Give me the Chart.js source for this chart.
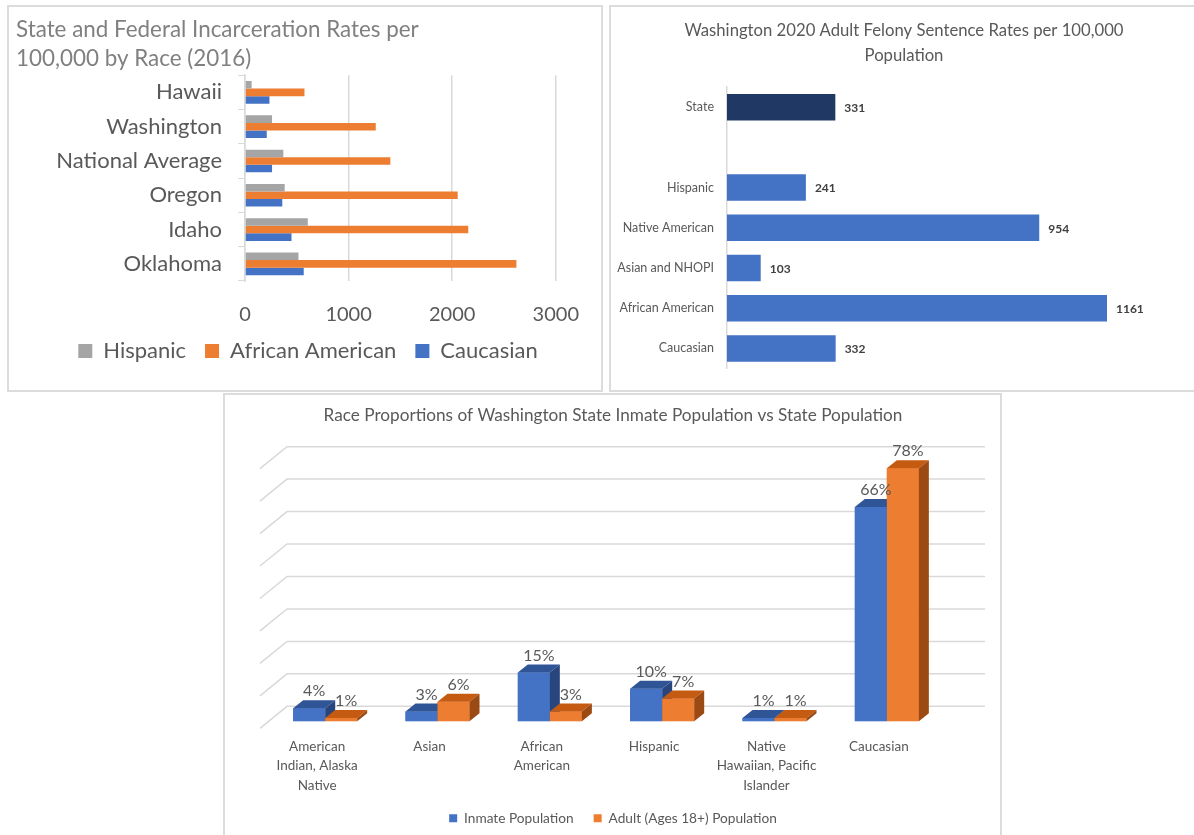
<!DOCTYPE html>
<html>
<head>
<meta charset="utf-8">
<title>Incarceration and sentence rates by race</title>
<script src="https://cdn.jsdelivr.net/npm/chart.js@4.4.0/dist/chart.umd.min.js"></script>
<style>
    body { margin: 0; background: #fff; width: 1194px; height: 835px; overflow: hidden; position: relative; }
    .box { position: absolute; border: 2px solid #dcdcdc; box-sizing: border-box; background: #fff; }
    canvas { position: absolute; }
</style>
</head>
<body>
<div class="box" style="left:7px;top:5px;width:596px;height:387px"></div>
<div class="box" style="left:609px;top:5px;width:600px;height:387px"></div>
<div class="box" style="left:223px;top:393px;width:779px;height:470px"></div>
<canvas id="rateChart" width="592" height="382" style="left:9px;top:7px"></canvas>
<canvas id="sentenceChart" width="595" height="382" style="left:611px;top:7px"></canvas>
<canvas id="shareChart" width="775" height="470" style="left:225px;top:395px"></canvas>

<script>
// Chart 1: State and Federal Incarceration Rates per 100,000 by Race (2016)
const stateLabels = ['Hawaii', 'Washington', 'National Average', 'Oregon', 'Idaho', 'Oklahoma'];
const hispanicRates = [64, 261, 370, 383, 606, 516];
const africanAmericanRates = [574, 1262, 1403, 2053, 2155, 2620];
const caucasianRates = [236, 210, 261, 360, 449, 567];
const rateTicks = [0, 1000, 2000, 3000];

// Chart 2: Washington 2020 Adult Felony Sentence Rates per 100,000 Population
const sentenceLabels = ['State', '', 'Hispanic', 'Native American', 'Asian and NHOPI', 'African American', 'Caucasian'];
const sentenceRates = [331, null, 241, 954, 103, 1161, 332];

// Chart 3: Race Proportions of Washington State Inmate Population vs State Population
const raceLabels = [['American', 'Indian, Alaska', 'Native'], 'Asian', ['African', 'American'], 'Hispanic', ['Native', 'Hawaiian, Pacific', 'Islander'], 'Caucasian'];
const inmateShare = [4, 3, 15, 10, 1, 66];
const adultShare = [1, 6, 3, 7, 1, 78];
const shareTicks = [0, 10, 20, 30, 40, 50, 60, 70, 80];

const FONT = "Lato, 'Open Sans', sans-serif";
const GREY_TEXT = '#595959';
const GRID = '#d9d9d9';

Chart.defaults.font.family = FONT;
Chart.defaults.color = GREY_TEXT;
Chart.defaults.animation = false;
Chart.defaults.plugins.tooltip.enabled = false;

// empty axis on the right, only reserves space so title/legend stay centred on the box
function spacerAxis(width) {
    return {
        type: 'linear',
        position: 'right',
        grid: { display: false, drawTicks: false },
        border: { display: false },
        ticks: { display: false },
        afterFit: (scale) => { scale.width = width; }
    };
}

// ---------- Chart 1 ----------
new Chart(document.getElementById('rateChart'), {
    type: 'bar',
    data: {
        labels: stateLabels,
        datasets: [
            { label: 'Hispanic', data: hispanicRates, backgroundColor: '#a5a5a5', borderWidth: 0 },
            { label: 'African American', data: africanAmericanRates, backgroundColor: '#ed7d31', borderWidth: 0 },
            { label: 'Caucasian', data: caucasianRates, backgroundColor: '#4472c4', borderWidth: 0 }
        ]
    },
    options: {
        indexAxis: 'y',
        responsive: false,
        categoryPercentage: 0.66,
        barPercentage: 1,
        layout: { padding: { left: 7, right: 1, top: 0, bottom: 17 } },
        scales: {
            x: {
                min: 0,
                max: 3000,
                afterBuildTicks: (scale) => { scale.ticks = rateTicks.map(v => ({ value: v })); },
                afterFit: (scale) => { scale.height = 40; },
                grid: { color: GRID, lineWidth: 1.5, drawTicks: false },
                border: { display: false },
                ticks: { padding: 22, font: { size: 20 }, color: GREY_TEXT, callback: (v) => String(v) }
            },
            y: {
                afterFit: (scale) => { scale.width = 229; },
                grid: { drawOnChartArea: false, tickLength: 7, color: GRID },
                border: { color: GRID, width: 1.5 },
                ticks: { padding: 16, font: { size: 22 }, color: GREY_TEXT }
            },
            spacer: spacerAxis(42)
        },
        plugins: {
            title: {
                display: true,
                align: 'start',
                text: ['State and Federal Incarceration Rates per', '100,000 by Race (2016)'],
                color: '#808080',
                font: { size: 22.4, weight: 'normal', lineHeight: 1.3 },
                padding: { top: 8, bottom: 2 }
            },
            legend: {
                position: 'bottom',
                labels: { boxWidth: 14, boxHeight: 14, padding: 19, font: { size: 22 }, color: GREY_TEXT }
            }
        }
    }
});

// ---------- Chart 2 ----------
const barValueLabels = {
    id: 'barValueLabels',
    afterDatasetsDraw(chart) {
        const ctx = chart.ctx;
        const meta = chart.getDatasetMeta(0);
        ctx.save();
        ctx.font = 'bold 12px ' + FONT;
        ctx.fillStyle = '#404040';
        ctx.textBaseline = 'middle';
        meta.data.forEach((bar, i) => {
            const v = sentenceRates[i];
            if (v == null) return;
            ctx.fillText(String(v), bar.x + 9, bar.y + 1);
        });
        ctx.restore();
    }
};

new Chart(document.getElementById('sentenceChart'), {
    type: 'bar',
    data: {
        labels: sentenceLabels,
        datasets: [{
            data: sentenceRates,
            backgroundColor: sentenceLabels.map((l, i) => i === 0 ? '#203864' : '#4472c4'),
            borderWidth: 0
        }]
    },
    options: {
        indexAxis: 'y',
        responsive: false,
        categoryPercentage: 0.66,
        barPercentage: 1,
        layout: { padding: { left: 0, right: 9, top: 0, bottom: 15 } },
        scales: {
            x: { display: false, min: 0, max: 1436 },
            y: {
                afterFit: (scale) => { scale.width = 116; },
                grid: { display: false, drawTicks: false },
                border: { color: GRID, width: 1.5 },
                ticks: { padding: 13, font: { size: 12.5 }, color: GREY_TEXT }
            }
        },
        plugins: {
            legend: { display: false },
            title: {
                display: true,
                text: ['Washington 2020 Adult Felony Sentence Rates per 100,000', 'Population'],
                color: GREY_TEXT,
                font: { size: 16.7, weight: 'normal', lineHeight: 1.5 },
                padding: { top: 11, bottom: 19 }
            }
        }
    },
    plugins: [barValueLabels]
});

// ---------- Chart 3 (3D look) ----------
const DEPTH_X = 10, DEPTH_Y = -8;   // bar depth
const WALL_X = 18, WALL_Y = -15;    // back wall behind bar fronts
const FLOOR_X = -27, FLOOR_Y = 22;  // diagonal from wall to front edge

const perspectiveGrid = {
    id: 'perspectiveGrid',
    beforeDatasetsDraw(chart) {
        const { ctx, chartArea, scales: { y } } = chart;
        ctx.save();
        ctx.strokeStyle = GRID;
        ctx.lineWidth = 1.5;
        shareTicks.forEach(v => {
            const py = y.getPixelForValue(v) + WALL_Y;
            const px = chartArea.left + WALL_X;
            ctx.beginPath();
            ctx.moveTo(px + FLOOR_X, py + FLOOR_Y);
            ctx.lineTo(px, py);
            ctx.lineTo(chartArea.right + 42, py);
            ctx.stroke();
        });
        ctx.restore();
    }
};

function fillPoly(ctx, pts, color) {
    ctx.beginPath();
    ctx.moveTo(pts[0][0], pts[0][1]);
    pts.slice(1).forEach(p => ctx.lineTo(p[0], p[1]));
    ctx.closePath();
    ctx.fillStyle = color;
    ctx.fill();
}

const bars3d = {
    id: 'bars3d',
    afterDatasetsDraw(chart) {
        const ctx = chart.ctx;
        ctx.save();
        chart.data.datasets.forEach((ds, di) => {
            chart.getDatasetMeta(di).data.forEach(bar => {
                const l = bar.x - bar.width / 2, r = bar.x + bar.width / 2;
                const t = bar.y, b = bar.base;
                fillPoly(ctx, [[l, t], [r, t], [r, b], [l, b]], ds.backgroundColor);
                fillPoly(ctx, [[l, t], [l + DEPTH_X, t + DEPTH_Y], [r + DEPTH_X, t + DEPTH_Y], [r, t]], ds.topColor);
                fillPoly(ctx, [[r, t], [r + DEPTH_X, t + DEPTH_Y], [r + DEPTH_X, b + DEPTH_Y], [r, b]], ds.sideColor);
            });
        });
        // value labels
        ctx.font = '16px ' + FONT;
        ctx.fillStyle = GREY_TEXT;
        ctx.textAlign = 'center';
        ctx.textBaseline = 'middle';
        chart.data.datasets.forEach((ds, di) => {
            chart.getDatasetMeta(di).data.forEach((bar, i) => {
                ctx.fillText(ds.data[i] + '%', bar.x + DEPTH_X / 2, bar.y + DEPTH_Y - 9);
            });
        });
        ctx.restore();
    }
};

new Chart(document.getElementById('shareChart'), {
    type: 'bar',
    data: {
        labels: raceLabels,
        datasets: [
            { label: 'Inmate Population', data: inmateShare, backgroundColor: '#4472c4', topColor: '#2f5597', sideColor: '#28467d', borderWidth: 0 },
            { label: 'Adult (Ages 18+) Population', data: adultShare, backgroundColor: '#ed7d31', topColor: '#c55a11', sideColor: '#9c4a14', borderWidth: 0 }
        ]
    },
    options: {
        responsive: false,
        categoryPercentage: 0.57,
        barPercentage: 1,
        layout: { padding: { left: 44, right: 43, top: 0, bottom: 30 } },
        scales: {
            x: {
                afterFit: (scale) => { scale.height = 70; },
                grid: { display: false, drawTicks: false },
                border: { display: false },
                ticks: { padding: 16, labelOffset: -8, font: { size: 13.5, lineHeight: 1.42 }, color: GREY_TEXT, maxRotation: 0, autoSkip: false }
            },
            y: { display: false, min: 0, max: 80 },
            spacer: spacerAxis(14)
        },
        plugins: {
            title: {
                display: true,
                text: 'Race Proportions of Washington State Inmate Population vs State Population',
                color: GREY_TEXT,
                font: { size: 17.2, weight: 'normal', lineHeight: 1.2 },
                padding: { top: 10, bottom: 36 }
            },
            legend: {
                position: 'bottom',
                labels: { boxWidth: 8, boxHeight: 8, padding: 20, font: { size: 13.7 }, color: GREY_TEXT }
            }
        }
    },
    plugins: [perspectiveGrid, bars3d]
});
</script>
</body>
</html>
